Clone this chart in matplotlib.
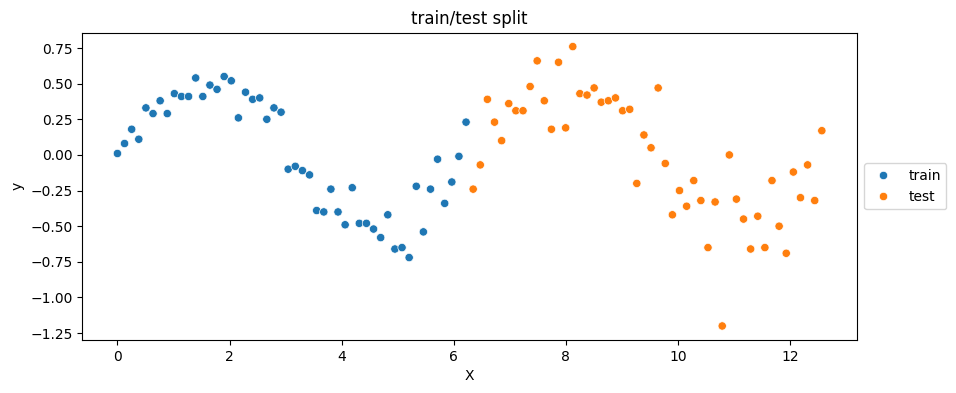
import pandas as pd
import seaborn as sns
import matplotlib
matplotlib.use('Agg')
import matplotlib.pyplot as plt

# Sample positions and values
x_train = [0.000, 0.127, 0.254, 0.381, 0.508, 0.635, 0.762, 0.889, 1.016, 1.142,
           1.269, 1.396, 1.523, 1.650, 1.777, 1.904, 2.031, 2.158, 2.285, 2.412,
           2.538, 2.665, 2.792, 2.919, 3.046, 3.173, 3.300, 3.427, 3.554, 3.681,
           3.808, 3.935, 4.062, 4.189, 4.315, 4.442, 4.569, 4.696, 4.823, 4.950,
           5.077, 5.204, 5.331, 5.458, 5.585, 5.711, 5.838, 5.965, 6.092, 6.219]
y_train = [0.01, 0.08, 0.18, 0.11, 0.33, 0.29, 0.38, 0.29, 0.43, 0.41,
           0.41, 0.54, 0.41, 0.49, 0.46, 0.55, 0.52, 0.26, 0.44, 0.39,
           0.40, 0.25, 0.33, 0.30, -0.10, -0.08, -0.11, -0.14, -0.39, -0.40,
           -0.24, -0.40, -0.49, -0.23, -0.48, -0.48, -0.52, -0.58, -0.42, -0.66,
           -0.65, -0.72, -0.22, -0.54, -0.24, -0.03, -0.34, -0.19, -0.01, 0.23]

x_test = [6.346, 6.473, 6.600, 6.727, 6.854, 6.981, 7.108, 7.235, 7.362, 7.488,
          7.615, 7.742, 7.869, 7.996, 8.123, 8.250, 8.377, 8.504, 8.631, 8.758,
          8.885, 9.012, 9.139, 9.265, 9.392, 9.519, 9.646, 9.773, 9.900, 10.027,
          10.154, 10.281, 10.408, 10.535, 10.662, 10.789, 10.916, 11.042, 11.169, 11.296,
          11.423, 11.550, 11.677, 11.804, 11.931, 12.058, 12.185, 12.312, 12.439, 12.566]
y_test = [-0.24, -0.07, 0.39, 0.23, 0.10, 0.36, 0.31, 0.31, 0.48, 0.66,
          0.38, 0.18, 0.65, 0.19, 0.76, 0.43, 0.42, 0.47, 0.37, 0.38,
          0.40, 0.31, 0.32, -0.20, 0.14, 0.05, 0.47, -0.06, -0.42, -0.25,
          -0.36, -0.18, -0.32, -0.65, -0.33, -1.20, 0.00, -0.31, -0.45, -0.66,
          -0.43, -0.65, -0.18, -0.50, -0.69, -0.12, -0.30, -0.07, -0.32, 0.17]

df = pd.DataFrame({
    'X': x_train + x_test,
    'y': y_train + y_test,
    'split': ['train'] * len(x_train) + ['test'] * len(x_test),
})

fig, ax = plt.subplots(figsize=(9.56, 3.93), dpi=100)
fig.subplots_adjust(left=0.086, right=0.8965, top=0.917, bottom=0.135)

sns.scatterplot(data=df, x='X', y='y', hue='split', ax=ax)

ax.set_title('train/test split')
ax.legend(loc='center left', bbox_to_anchor=(1, 0.5))

plt.savefig('out.png', dpi=100)
